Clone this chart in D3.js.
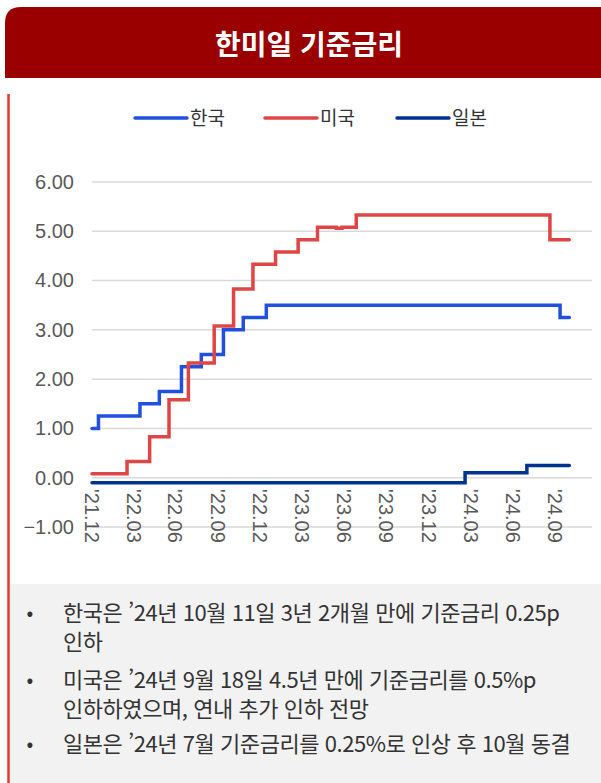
<!DOCTYPE html>
<html lang="ko">
<head>
<meta charset="utf-8">
<script src="https://cdn.jsdelivr.net/npm/d3@7"></script>
<style>
  html, body { margin: 0; padding: 0; background: #fff; }
  svg { display: block; }
</style>
</head>
<body>
<svg id="chart" width="601" height="783"></svg>
<script>
// policy rate changes (step dates) per country
const krDates = ["2021-12-31","2022-01-14","2022-04-14","2022-05-26","2022-07-13","2022-08-25","2022-10-12","2022-11-24","2023-01-13","2024-10-11","2024-10-31"];
const krRates = [1.00,1.25,1.50,1.75,2.25,2.50,3.00,3.25,3.50,3.25,3.25];

const usDates = ["2021-12-31","2022-03-17","2022-05-05","2022-06-16","2022-07-28","2022-09-22","2022-11-03","2022-12-15","2023-02-02","2023-03-23","2023-05-04","2023-06-14","2023-06-26","2023-07-27","2024-09-19","2024-10-31"];
const usRates = [0.08,0.33,0.83,1.58,2.33,3.08,3.83,4.33,4.58,4.83,5.08,5.06,5.08,5.33,4.83,4.83];

const jpDates = ["2021-12-31","2024-03-19","2024-07-31","2024-10-31"];
const jpRates = [-0.10,0.10,0.25,0.25];

const tickDates = ["2021-12-31","2022-03-31","2022-06-30","2022-09-30","2022-12-31","2023-03-31","2023-06-30","2023-09-30","2023-12-31","2024-03-31","2024-06-30","2024-09-30"];
const tickLabels = ["'21.12","'22.03","'22.06","'22.09","'22.12","'23.03","'23.06","'23.09","'23.12","'24.03","'24.06","'24.09"];
const yTicks = [-1, 0, 1, 2, 3, 4, 5, 6];

const seriesNames = ["한국", "미국", "일본"];
const seriesColors = ["#2150e0", "#e04545", "#00338f"];

const notes = [
  ["한국은 ’24년 10월 11일 3년 2개월 만에 기준금리 0.25p", "인하"],
  ["미국은 ’24년 9월 18일 4.5년 만에 기준금리를 0.5%p", "인하하였으며, 연내 추가 인하 전망"],
  ["일본은 ’24년 7월 기준금리를 0.25%로 인상 후 10월 동결"]
];

const parse = d3.timeParse("%Y-%m-%d");
const series = [
  krDates.map((d, i) => ({date: parse(d), v: krRates[i]})),
  usDates.map((d, i) => ({date: parse(d), v: usRates[i]})),
  jpDates.map((d, i) => ({date: parse(d), v: jpRates[i]}))
];

const svg = d3.select("#chart");
const numFont = "'Liberation Sans', Arial, 'Noto Sans CJK KR', sans-serif";
const krFont = "'Noto Sans CJK KR', 'Noto Sans', sans-serif";

// header band
const hx = 5, hy = 7, hw = 620, hh = 71, r = 16;
svg.append("path")
  .attr("d", `M${hx},${hy + hh} V${hy + r} Q${hx},${hy} ${hx + r},${hy} H${hx + hw - r} Q${hx + hw},${hy} ${hx + hw},${hy + r} V${hy + hh} Z`)
  .attr("fill", "#9b0000");
svg.append("text")
  .attr("x", 309).attr("y", 43)
  .attr("text-anchor", "middle").attr("dominant-baseline", "central")
  .attr("fill", "#fff").attr("font-family", krFont).attr("font-weight", 700)
  .attr("font-size", 28)
  .text("한미일 기준금리");

// left red rule
svg.append("line")
  .attr("x1", 8.5).attr("x2", 8.5).attr("y1", 94).attr("y2", 783)
  .attr("stroke", "#e5392f").attr("stroke-width", 2.5);

// notes box
svg.append("rect")
  .attr("x", 10).attr("y", 584).attr("width", 591).attr("height", 199)
  .attr("fill", "#f2f2f2");

// scales
const x = d3.scaleTime().domain([parse("2021-12-31"), parse("2024-09-30")]).range([92, 555]);
const y = d3.scaleLinear().domain([-1, 6]).range([527, 182]);

// gridlines
svg.append("g").selectAll("line").data(yTicks).join("line")
  .attr("x1", 92).attr("x2", 592)
  .attr("y1", d => y(d)).attr("y2", d => y(d))
  .attr("stroke", "#d9d9d9").attr("stroke-width", 1.5);

// y axis labels
const yAxis = d3.axisLeft(y).tickValues(yTicks).tickFormat(d3.format(".2f")).tickSize(0).tickPadding(0);
svg.append("g").attr("transform", "translate(74,0)").call(yAxis)
  .call(g => g.select(".domain").remove())
  .call(g => g.selectAll("text").attr("fill", "#595959").attr("font-size", 20).attr("font-family", numFont));

// x axis labels (rotated)
svg.append("g").selectAll("text").data(tickDates).join("text")
  .attr("transform", d => `translate(${x(parse(d))},489) rotate(90)`)
  .attr("dy", "0.35em")
  .attr("fill", "#595959").attr("font-size", 20).attr("font-family", numFont)
  .text((d, i) => tickLabels[i]);

// lines
const line = d3.line().x(d => x(d.date)).y(d => y(d.v)).curve(d3.curveStepAfter);
svg.append("g").selectAll("path").data(series).join("path")
  .attr("d", line)
  .attr("fill", "none")
  .attr("stroke", (d, i) => seriesColors[i])
  .attr("stroke-width", 3.5)
  .attr("stroke-linecap", "round");

// legend
const legX = [135, 265, 397];
const leg = svg.append("g").selectAll("g").data(seriesNames).join("g")
  .attr("transform", (d, i) => `translate(${legX[i]},118)`);
leg.append("line").attr("x1", 0).attr("x2", 52)
  .attr("stroke", (d, i) => seriesColors[i]).attr("stroke-width", 3.5).attr("stroke-linecap", "round");
leg.append("text").attr("x", 55).attr("dy", "0.35em")
  .attr("fill", "#333").attr("font-size", 19).attr("font-family", krFont)
  .text(d => d);

// notes
const itemY = [613, 680, 744];
const lh = 29;
notes.forEach((lines, i) => {
  svg.append("text").attr("x", 30).attr("y", itemY[i]).attr("dy", "0.35em")
    .attr("text-anchor", "middle")
    .attr("fill", "#333").attr("font-size", 20).attr("font-family", krFont).text("•");
  svg.append("g").selectAll("text").data(lines).join("text")
    .attr("x", 63).attr("y", (d, j) => itemY[i] + j * lh).attr("dy", "0.35em")
    .attr("fill", "#333").attr("font-size", 22).attr("font-family", krFont)
    .attr("letter-spacing", -0.45)
    .text(d => d);
});
</script>
</body>
</html>
